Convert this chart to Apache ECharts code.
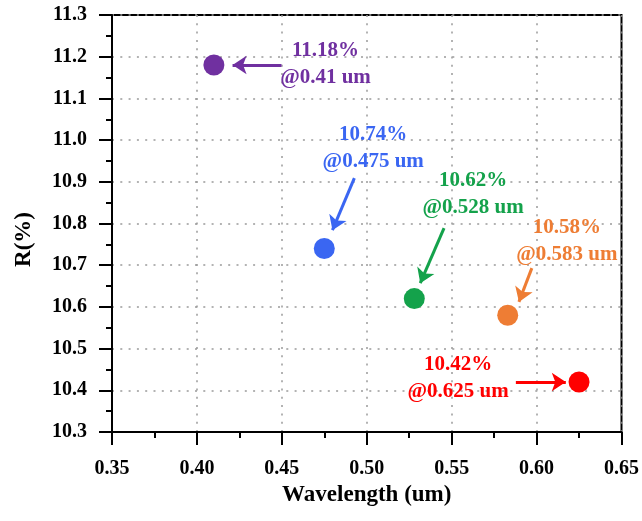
<!DOCTYPE html>
<html>
<head>
<meta charset="utf-8">
<script src="https://cdn.jsdelivr.net/npm/echarts@6/dist/echarts.min.js"></script>
<style>
  html, body {margin: 0; padding: 0; background: #fff;}
  #chart {width: 642px; height: 521px;}
</style>
</head>
<body>
<div id="chart"></div>
<script>
// measured points
const wavelength = [0.41, 0.475, 0.528, 0.583, 0.625];
const reflectance = [11.18, 10.74, 10.62, 10.58, 10.42];
const pointColors = ['#7030A0', '#3A66F2', '#14A24B', '#EE7D34', '#FF0000'];

// where each callout text sits and where its arrow runs (data units)
const labelAt = [[0.4757, 11.183], [0.5038, 10.981], [0.5626, 10.871], [0.6178, 10.758], [0.5538, 10.43]];
const arrowFrom = [[0.4498, 11.18], [0.4927, 10.909], [0.5455, 10.789], [0.5972, 10.693], [0.5878, 10.42]];
const arrowTo = [[0.421, 11.18], [0.4798, 10.784], [0.5315, 10.657], [0.5896, 10.612], [0.6172, 10.42]];

const font = "'Times New Roman', 'Liberation Serif', serif";
const chart = echarts.init(document.getElementById('chart'));

const axisCommon = {
  axisLine: {show: true, lineStyle: {color: '#000', width: 2}},
  axisTick: {show: true, inside: false, length: 13, lineStyle: {color: '#000', width: 2}},
  minorTick: {show: true, splitNumber: 2, length: 6, lineStyle: {color: '#000', width: 2}},
  splitLine: {show: true, lineStyle: {color: '#9a9a9a', width: 1.5, type: [2, 6.3]}},
  nameTextStyle: {fontFamily: font, fontWeight: 'bold', fontSize: 23, color: '#000'}
};

const arrowSeries = arrowFrom.map((from, i) => ({
  type: 'lines',
  coordinateSystem: 'cartesian2d',
  color: pointColors[i],
  symbol: ['none', 'arrow'],
  symbolSize: 14,
  lineStyle: {color: pointColors[i], width: 3, opacity: 1},
  silent: true,
  data: [{coords: [from, arrowTo[i]]}]
}));

chart.setOption({
  animation: false,
  backgroundColor: '#fff',
  grid: {left: 112, right: 19, top: 15, bottom: 89, show: true, borderColor: '#000', borderWidth: 2},
  xAxis: {
    ...axisCommon,
    type: 'value',
    min: 0.35,
    max: 0.65,
    interval: 0.05,
    name: 'Wavelength (um)',
    nameLocation: 'middle',
    nameGap: 45,
    axisLabel: {
      margin: 27, fontFamily: font, fontWeight: 'bold', fontSize: 20, color: '#000',
      showMinLabel: true, showMaxLabel: true,
      formatter: v => v.toFixed(2)
    }
  },
  yAxis: {
    ...axisCommon,
    type: 'value',
    min: 10.3,
    max: 11.3,
    interval: 0.1,
    name: 'R(%)',
    nameLocation: 'middle',
    nameGap: 76,
    nameTextStyle: {...axisCommon.nameTextStyle, padding: [0, 32, 0, 0]},
    axisLabel: {
      margin: 25, fontFamily: font, fontWeight: 'bold', fontSize: 20, color: '#000',
      showMinLabel: true, showMaxLabel: true,
      formatter: v => v.toFixed(1)
    }
  },
  series: [
    {
      type: 'scatter',
      symbolSize: 21,
      data: wavelength.map((w, i) => [w, reflectance[i]]),
      itemStyle: {opacity: 1, color: p => pointColors[p.dataIndex]},
      z: 5
    },
    {
      type: 'scatter',
      symbolSize: 0,
      silent: true,
      itemStyle: {opacity: 1},
      data: labelAt.map((pos, i) => ({
        value: pos,
        label: {color: pointColors[i]}
      })),
      label: {
        show: true,
        position: 'inside',
        fontFamily: font,
        fontWeight: 'bold',
        fontSize: 21,
        lineHeight: 27,
        align: 'center',
        opacity: 1,
        formatter: p => reflectance[p.dataIndex].toFixed(2) + '%\n@' + wavelength[p.dataIndex] + ' um'
      },
      z: 6
    },
    ...arrowSeries
  ]
});
</script>
</body>
</html>
